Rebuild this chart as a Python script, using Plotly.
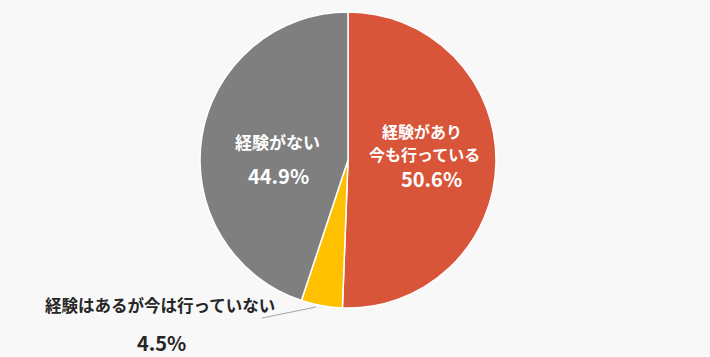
import plotly.graph_objects as go

labels = ["経験があり今も行っている", "経験はあるが今は行っていない", "経験がない"]
values = [50.6, 4.5, 44.9]
colors = ["#D9553A", "#FFC000", "#7F7F7F"]

W, H = 710, 357
cx, cy, r = 348, 160, 148

def px(x):
    return x / W

def py(y):
    return 1 - y / H

fig = go.Figure(go.Pie(
    labels=labels, values=values, sort=False, direction="clockwise", rotation=0,
    marker=dict(colors=colors, line=dict(color="white", width=1.5)),
    textinfo="none", hoverinfo="label+percent", showlegend=False,
    domain=dict(x=[px(cx - r), px(cx + r)], y=[py(cy + r), py(cy - r)]),
))

font = "Noto Sans CJK JP, sans-serif"
ann = []
def add(x, y, text, size, color):
    ann.append(dict(x=px(x), y=py(y), xref="paper", yref="paper", text=text, showarrow=False,
                    font=dict(family=font, size=size, color=color), xanchor="center", yanchor="middle"))

add(277, 142, "<b>経験がない</b>", 17, "white")
add(278, 175, "<b>" + f"{values[2]}%" + "</b>", 20, "white")
add(422, 131, "<b>経験があり</b>", 16, "white")
add(424, 154, "<b>今も行っている</b>", 16, "white")
add(431, 178, "<b>" + f"{values[0]}%" + "</b>", 20, "white")
add(160, 305, "<b>経験はあるが今は行っていない</b>", 16.5, "#262626")
add(161, 342, "<b>" + f"{values[1]}%" + "</b>", 20, "#262626")
fig.update_layout(annotations=ann)

fig.add_shape(type="line", xref="paper", yref="paper", x0=px(262), y0=py(318), x1=px(316), y1=py(307),
              line=dict(color="#A6A6A6", width=1))

fig.update_layout(width=W, height=H, margin=dict(l=0, r=0, t=0, b=0),
                  paper_bgcolor="#F8F8F8", plot_bgcolor="#F8F8F8")
fig.write_html("out.html", config={"displayModeBar": False},
               post_script="document.body.style.margin='0';document.body.style.background='#F8F8F8';")
